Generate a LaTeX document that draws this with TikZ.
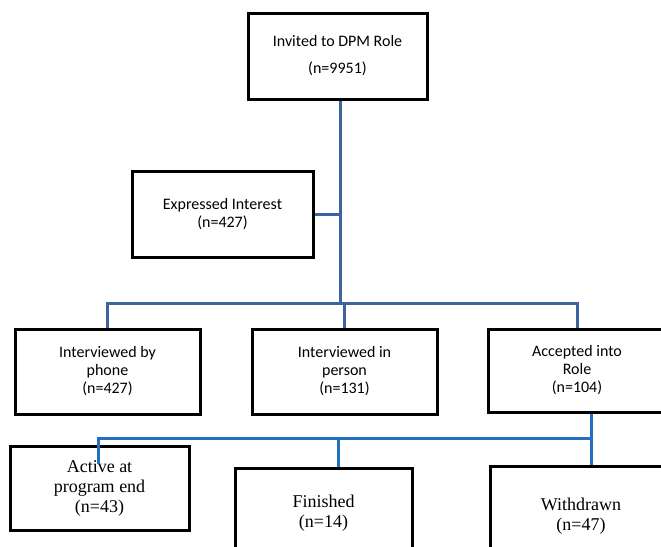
\documentclass[tikz,border=0pt]{standalone}
\usepackage{fontspec}
\setmainfont{Carlito}
\newfontfamily\timesf{Liberation Serif}
\definecolor{upblue}{RGB}{62,100,160}
\definecolor{lowblue}{RGB}{35,112,190}
\begin{document}
\begin{tikzpicture}[x=1pt,y=-1pt,
  box/.style={draw=black,line width=3pt,align=center,inner sep=0pt,
    font=\fontsize{16}{18}\selectfont},
  tbox/.style={box,font=\timesf\fontsize{18}{20}\selectfont},
  conn/.style={draw=upblue,line width=3pt},
  lconn/.style={draw=lowblue,line width=3pt}]
\useasboundingbox (0,0) rectangle (661,546);
\clip (0,0) rectangle (661,546);
\fill[white] (0,0) rectangle (661,546);

\node[box,minimum width=179pt,minimum height=86pt] (top) at (337.5,56)
  {Invited to DPM Role\\[9pt](n=9951)};
\node[box,minimum width=181pt,minimum height=86pt] (expr) at (222.5,214)
  {Expressed Interest\\(n=427)};
\node[box,minimum width=185pt,minimum height=85pt] (phone) at (107.5,371.5)
  {Interviewed by\\phone\\(n=427)};
\node[box,minimum width=185pt,minimum height=85pt] (person) at (344.5,371.5)
  {Interviewed in\\person\\(n=131)};
\node[box,minimum width=178pt,minimum height=83pt] (accepted) at (577,370.5)
  {Accepted into\\Role\\(n=104)};
\node[tbox,minimum width=179pt,minimum height=84pt] (active) at (99.5,488)
  {Active at\\program end\\(n=43)};
\node[tbox,minimum width=177pt,minimum height=90pt] (finished) at (323.5,513)
  {Finished\\(n=14)};
\node[tbox,minimum width=182pt,minimum height=100pt] (withdrawn) at (581,516)
  {Withdrawn\\(n=47)};

\coordinate (j1) at (340,303);
\draw[conn] (top.south -| j1) -- (j1);
\draw[conn] (expr.east) -- (expr.east -| j1);
\draw[conn] (phone.north) |- (j1) -| (accepted.north);
\draw[conn] (person.north) -- (person.north |- j1);

\coordinate (j2) at (591,438);
\draw[lconn] ([xshift=14pt]accepted.south) -- ([xshift=10pt]withdrawn.north);
\draw[lconn] (j2) -| ([xshift=-1.5pt,yshift=-19pt]active.north);
\draw[lconn] ([xshift=14.5pt]finished.north) -- ([xshift=14.5pt]finished.north |- j2);
\end{tikzpicture}
\end{document}
